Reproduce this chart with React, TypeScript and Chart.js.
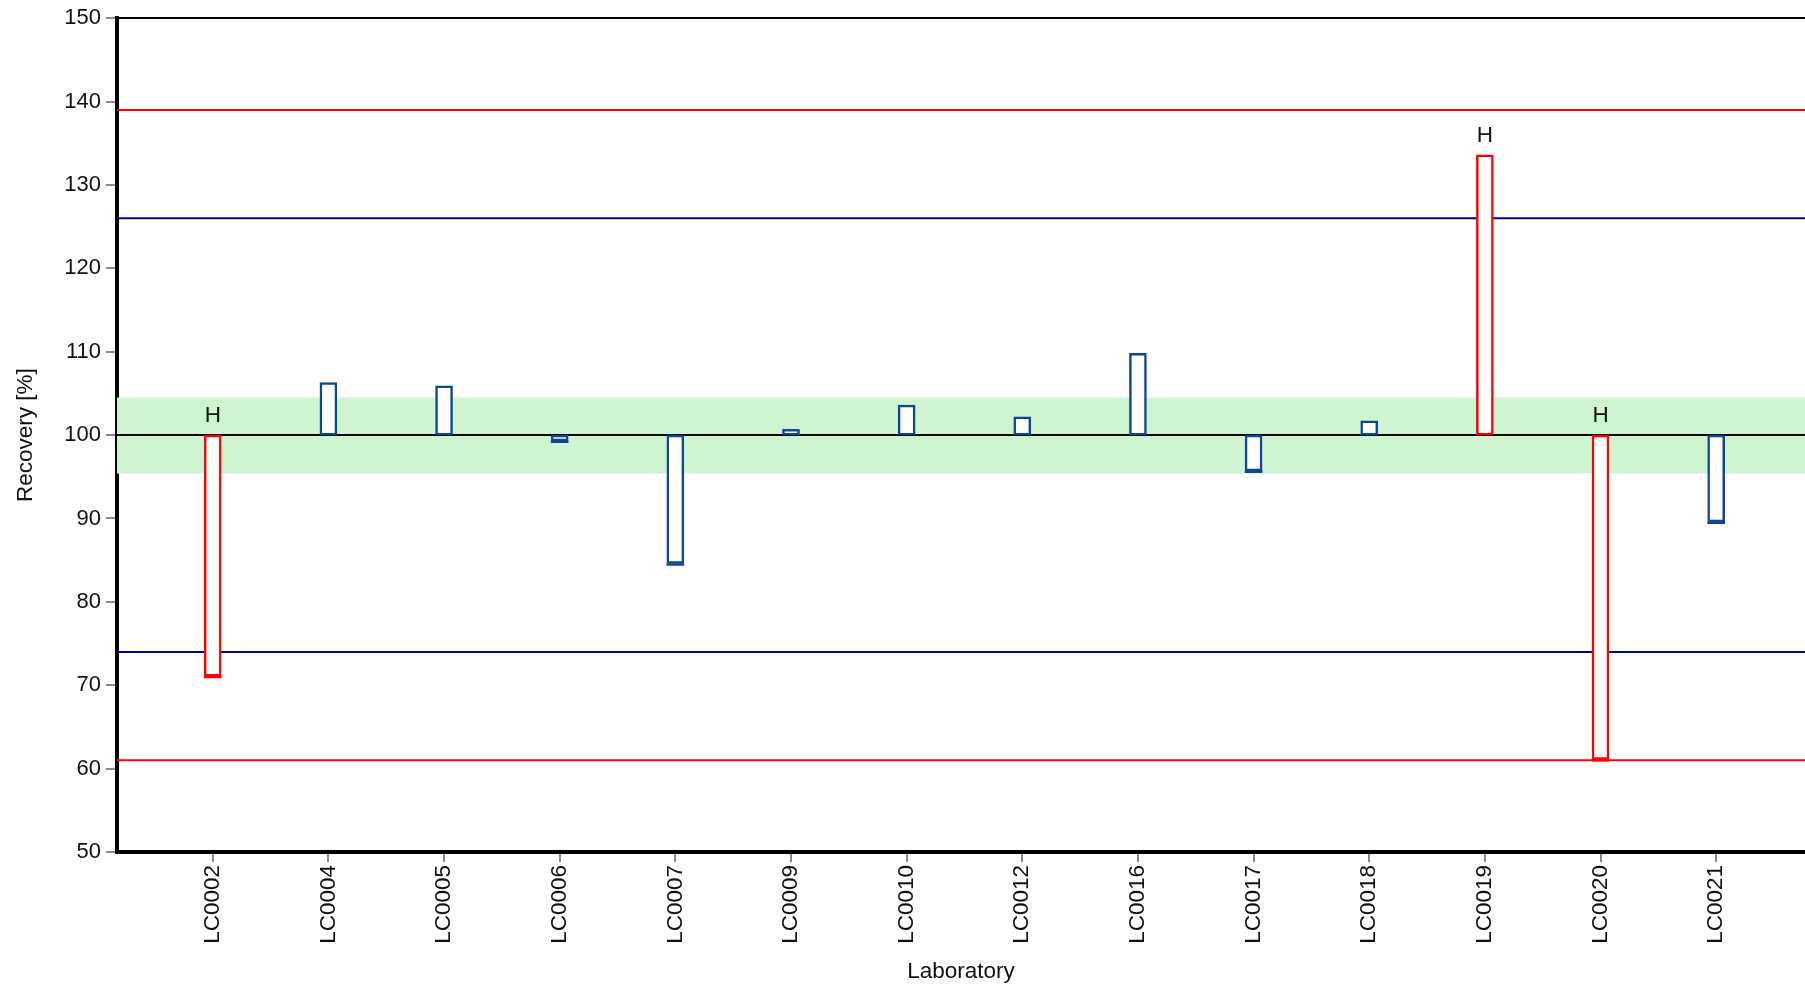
import React, { useEffect, useRef } from "react";
import { Chart, registerables } from "chart.js";

Chart.register(...registerables);

const LABS = ["LC0002", "LC0004", "LC0005", "LC0006", "LC0007", "LC0009", "LC0010", "LC0012", "LC0016", "LC0017", "LC0018", "LC0019", "LC0020", "LC0021"];
const RECOVERY = [71.1, 106.3, 105.9, 99.3, 84.6, 100.7, 103.6, 102.2, 109.8, 95.7, 101.7, 133.6, 61.1, 89.6];
const FLAGS = ["H", "", "", "", "", "", "", "", "", "", "", "H", "H", ""];
const ASSIGNED = 100;
const ACTION_LIMITS = [61, 139];
const WARNING_LIMITS = [74, 126];
const BAND = [95.4, 104.5];
const Y_MIN = 50;
const Y_MAX = 150;
const Y_STEP = 10;
const X_MIN = 0.172;
const X_MAX = 14.768;

const BLUE_BAR = "#0e4596";
const RED = "#ff0000";
const NAVY = "#0000a0";
const BAND_COLOR = "#cef5cf";
const FONT = "'Liberation Sans', Arial, sans-serif";
const FS = 22.5;

const hLine = (y: number) => [
  { x: X_MIN, y },
  { x: X_MAX, y },
];

const flagPlugin = {
  id: "flagLabels",
  afterDatasetsDraw(chart: any) {
    const { ctx, scales } = chart;
    const xs = scales.x;
    const ys = scales.y;
    ctx.save();
    ctx.font = `${FS}px ${FONT}`;
    ctx.fillStyle = "#111";
    ctx.textAlign = "center";
    ctx.textBaseline = "alphabetic";
    FLAGS.forEach((f, i) => {
      if (!f) return;
      const top = Math.max(RECOVERY[i], ASSIGNED);
      const px = xs.getPixelForValue(i + 1);
      const py = ys.getPixelForValue(top) - 13;
      ctx.fillText(f, px, py);
    });
    ctx.restore();
  },
};

export default function App() {
  const ref = useRef<HTMLCanvasElement | null>(null);

  useEffect(() => {
    if (!ref.current) return;
    Chart.defaults.font.family = FONT;
    const barColors = RECOVERY.map((_, i) => (FLAGS[i] ? RED : BLUE_BAR));
    const lineDs = (y: number, color: string, order: number) =>
      ({
        type: "line",
        data: hLine(y),
        borderColor: color,
        borderWidth: 2,
        pointRadius: 0,
        order,
      } as any);
    const chart = new Chart(ref.current, {
      data: {
        datasets: [
          {
            type: "bar",
            data: RECOVERY.map((v, i) => ({ x: i + 1, y: [ASSIGNED, v] })),
            backgroundColor: "#ffffff",
            borderColor: barColors,
            borderWidth: 2.5,
            borderSkipped: false,
            barThickness: 17,
            grouped: false,
            order: 0,
          } as any,
          {
            type: "bar",
            data: RECOVERY.map((v, i) => ({ x: i + 1, y: v < ASSIGNED ? [v, v - 0.22] : null })),
            backgroundColor: barColors,
            borderWidth: 0,
            barThickness: 17,
            grouped: false,
            order: 0,
          } as any,
          lineDs(ACTION_LIMITS[0], RED, 2),
          lineDs(ACTION_LIMITS[1], RED, 2),
          lineDs(WARNING_LIMITS[0], NAVY, 2),
          lineDs(WARNING_LIMITS[1], NAVY, 2),
          {
            type: "line",
            data: hLine(BAND[0]),
            borderWidth: 0,
            borderColor: "rgba(0,0,0,0)",
            pointRadius: 0,
            fill: false,
            order: 4,
          } as any,
          {
            type: "line",
            data: hLine(BAND[1]),
            borderWidth: 0,
            borderColor: "rgba(0,0,0,0)",
            backgroundColor: BAND_COLOR,
            pointRadius: 0,
            fill: "-1",
            order: 3,
          } as any,
          lineDs(ASSIGNED, "#000000", 1),
        ],
      },
      options: {
        animation: false,
        responsive: false,
        maintainAspectRatio: false,
        layout: { padding: { top: 16, left: 0, right: 0, bottom: 0 } },
        plugins: {
          legend: { display: false },
          tooltip: { enabled: false },
        },
        scales: {
          x: {
            type: "linear",
            position: "bottom",
            min: X_MIN,
            max: X_MAX,
            offset: false,
            afterFit: (s: any) => {
              s.height = 134;
            },
            ticks: {
              stepSize: 1,
              includeBounds: false,
              autoSkip: false,
              minRotation: 90,
              maxRotation: 90,
              padding: 3,
              color: "#111",
              font: { size: FS, family: FONT },
              callback: (v: any) => {
                const n = Number(v);
                return Number.isInteger(n) && n >= 1 && n <= LABS.length ? LABS[n - 1] : "";
              },
            },
            grid: {
              offset: false,
              drawOnChartArea: false,
              drawTicks: true,
              tickLength: 10,
              color: "#8a8a8a",
              lineWidth: 2,
            },
            border: { display: true, color: "#000", width: 4 },
            title: {
              display: true,
              text: "Laboratory",
              color: "#111",
              font: { size: FS, family: FONT },
              padding: { top: 0, bottom: 1 },
            },
          },
          x2: {
            type: "linear",
            position: "top",
            min: X_MIN,
            max: X_MAX,
            offset: false,
            afterFit: (s: any) => {
              s.height = 0;
            },
            ticks: { display: false },
            grid: { display: false, drawTicks: false, offset: false },
            border: { display: true, color: "#000", width: 2 },
          },
          y: {
            type: "linear",
            min: Y_MIN,
            max: Y_MAX,
            afterFit: (s: any) => {
              s.width = 117;
            },
            ticks: {
              stepSize: Y_STEP,
              padding: 5,
              color: "#111",
              font: { size: 22, family: FONT },
            },
            grid: {
              drawOnChartArea: false,
              drawTicks: true,
              tickLength: 11,
              color: "#8a8a8a",
              lineWidth: 2,
            },
            border: { display: true, color: "#000", width: 4 },
            title: {
              display: true,
              text: "Recovery [%]",
              color: "#111",
              font: { size: FS, family: FONT },
              padding: { top: 12, bottom: 0 },
            },
          },
        },
      } as any,
      plugins: [flagPlugin],
    });
    return () => chart.destroy();
  }, []);

  return (
    <div style={{ position: "fixed", left: 0, top: 0, width: 1805, height: 986, background: "#fff" }}>
      <canvas ref={ref} width={1805} height={986} style={{ display: "block" }} />
    </div>
  );
}
